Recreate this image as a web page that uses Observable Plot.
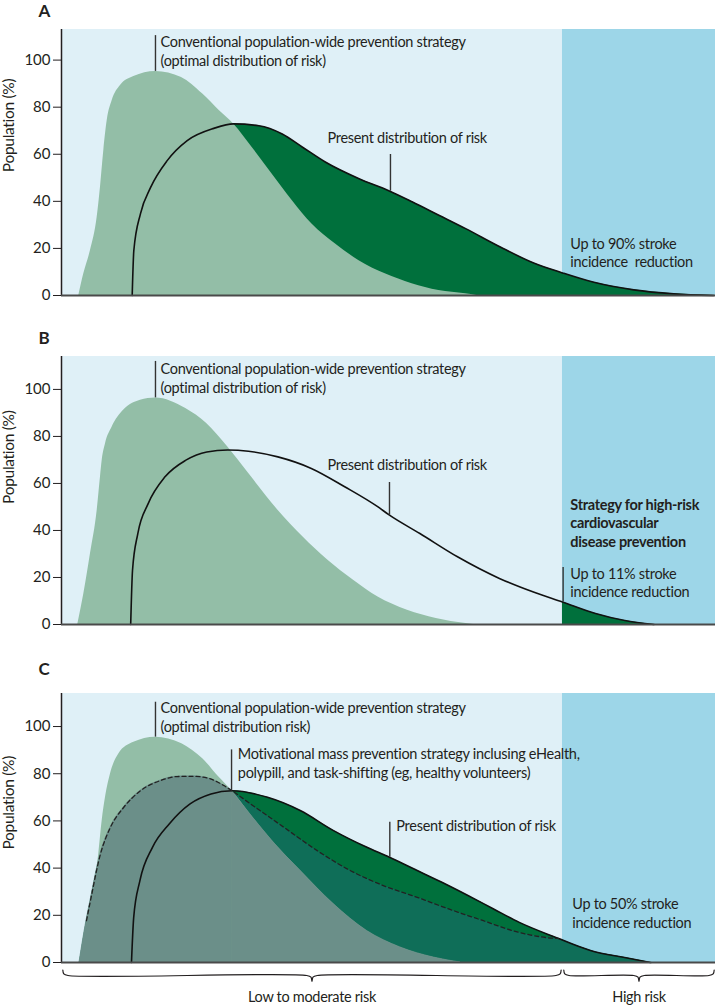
<!DOCTYPE html>
<html><head><meta charset="utf-8">
<script src="https://cdn.jsdelivr.net/npm/d3@7"></script>
<script src="https://cdn.jsdelivr.net/npm/@observablehq/plot@0.6"></script>
<style>
body{margin:0;background:#fff;}
#chart{width:715px;}
#chart svg{display:block;}
#chart g[aria-label="text"] text{letter-spacing:-0.3px;}
</style></head><body><div id="chart"></div>
<script>
// ---------- data (x = risk scale 0–100, y = population %) ----------
const yTicks = [0, 20, 40, 60, 80, 100];
const riskBands = [
  {label: "Low to moderate risk", x1: 0, x2: 76.6},
  {label: "High risk", x1: 76.6, x2: 100}
];
const optimalA = [[2.65,0],[3.41,9.2],[4.43,19.1],[5.46,33.3],[5.96,46.0],[6.47,61.6],[6.99,74.3],[7.75,82.8],[9.02,89.2],[11.06,93.0],[14.4,95.2],[18.35,92.6],[21.56,85.7],[24.16,78.5],[26.35,72.8],[29.16,62.9],[32.2,51.6],[35.3,40.3],[38.3,30.4],[41.9,21.9],[45.5,14.8],[49.5,9.2],[53.6,5.0],[57.7,2.1],[61.8,0.7],[63.5,0]];
const presentA = [[10.81,0],[11.06,19.1],[12.08,34.8],[13.61,45.8],[16.16,57.3],[19.22,65.8],[23.29,71.0],[26.3,72.9],[30.17,72.1],[33.75,68.6],[36.8,63.1],[40.4,56.6],[45.5,49.6],[50.04,44.5],[53.6,39.8],[57.7,34.1],[61.8,28.4],[67.1,20.6],[72.2,13.8],[76.6,9.6],[81.4,5.6],[87.5,2.4],[93.6,0.7],[99.7,0]];
const optimalB = [[2.49,0],[3.41,13.0],[4.43,30.1],[5.46,48.6],[5.96,62.7],[6.22,69.8],[6.73,76.9],[7.75,84.0],[9.53,91.2],[12.08,95.4],[14.4,96.4],[19.0,91.9],[22.2,85.5],[25.4,75.6],[28.6,64.3],[33.1,48.6],[36.9,37.3],[40.7,27.4],[44.6,18.9],[48.4,11.7],[52.9,6.1],[57.3,2.6],[61.85,0.4],[63.0,0]];
const presentB = [[10.58,0],[10.86,23.1],[11.67,38.7],[13.27,51.5],[15.83,62.8],[19.02,69.9],[22.22,73.4],[25.41,74.2],[28.59,73.7],[33.09,71.3],[38.2,66.4],[43.3,58.6],[48.4,50.0],[50.15,46.5],[54.8,38.7],[60.55,28.8],[66.96,19.6],[72.06,13.9],[76.6,9.6],[81.65,4.7],[86.13,1.7],[90.6,0]];
const optimalC = [[2.75,0],[3.41,9.3],[4.02,19.2],[4.94,31.9],[5.70,46.0],[6.22,60.1],[6.73,70.0],[7.49,79.9],[8.76,88.4],[11.06,93.3],[14.37,95.5],[18.4,92.7],[21.6,86.3],[24.1,78.5],[26.05,72.8],[29.25,61.5],[33.1,48.8],[36.5,39.0],[41.6,24.8],[46.7,13.4],[51.8,6.4],[56.9,2.1],[61.0,0]];
const presentC = [[10.7,0],[11.04,19.1],[11.99,34.7],[13.91,48.8],[16.47,58.7],[19.66,67.2],[22.86,71.4],[26.05,72.8],[31.5,70.0],[36.5,64.4],[41.6,55.9],[46.7,48.8],[50.15,44.6],[54.0,39.5],[58.0,34.2],[62.0,28.6],[66.0,22.8],[70.0,17.0],[74.3,12.0],[76.0,10.2],[76.6,9.5],[81.0,5.0],[86.1,2.1],[90.1,0]];
const motivationalC = [[2.75,0],[3.82,17.7],[4.43,26.2],[5.96,46.0],[7.49,57.3],[9.53,65.8],[12.08,72.8],[15.14,77.1],[17.69,78.8],[20.23,78.9],[22.78,77.8],[24.82,75.0],[26.05,72.8],[28.9,67.2],[34.0,57.3],[39.1,47.4],[44.2,38.9],[49.3,32.5],[54.4,27.6],[59.5,22.4],[64.5,17.7],[69.1,13.4],[72.0,11.5],[74.3,10.5],[76.0,10.2],[76.6,9.5],[81.0,5.0],[86.1,2.1],[90.1,0]];
const crossC = 26.05;             // where the three curves meet in panel C
const dashedRange = [3.82, 76.0]; // visible dashed stretch of the motivational curve

const txtConvAB = "Conventional population-wide prevention strategy\n(optimal distribution of risk)";
const txtConvC = "Conventional population-wide prevention strategy\n(optimal distribution risk)";
const txtPresent = "Present distribution of risk";
const txtMotiv = "Motivational mass prevention strategy inclusing eHealth,\npolypill, and task-shifting (eg, healthy volunteers)";
const txtRedA = "Up to 90% stroke\nincidence  reduction";
const txtRedB = "Up to 11% stroke\nincidence reduction";
const txtStratB = "Strategy for high-risk\ncardiovascular\ndisease prevention";
const txtRedC = "Up to 50% stroke\nincidence reduction";
const yLabel = "Population (%)";

// ---------- styling ----------
const C = {
  bgLow: "#dff0f7", bgHigh: "#9dd6e8", light: "#93bea7", dark: "#00703c",
  teal: "#0f6e58", gray: "#6b8f89", ink: "#231f20"
};
const pts = a => a.map(([x, y]) => ({x, y}));
const T = 14.5;

function note(text, x, y, o = {}) {
  return Plot.text([text], {x, y, text: d => d, textAnchor: "start", lineAnchor: "top", dy: -4,
    fontSize: T, fill: C.ink, lineHeight: o.lh ?? 1.3, fontWeight: o.bold ? "bold" : "normal"});
}
function leader(x, y1, y2) {
  return Plot.ruleX([x], {y1, y2, stroke: "#333", strokeWidth: 1.4});
}

function panel({letter, ymax, height, marginTop, marginBottom, letterDy, labelY, marks}) {
  return Plot.plot({
    width: 715, height, marginLeft: 61, marginRight: 0, marginTop, marginBottom,
    style: {fontFamily: "Lato, 'Open Sans', sans-serif", fontSize: "15px", color: C.ink, background: "none", overflow: "visible"},
    x: {domain: [0, 100], axis: null},
    y: {domain: [0, ymax], ticks: yTicks, tickSize: 8, tickPadding: 3, label: null, tickFormat: d => d},
    marks: [
      Plot.rect([riskBands[0]], {x1: "x1", x2: "x2", y1: 0, y2: ymax, fill: C.bgLow}),
      Plot.rect([riskBands[1]], {x1: "x1", x2: "x2", y1: 0, y2: ymax, fill: C.bgHigh}),
      ...marks,
      Plot.ruleX([0], {stroke: C.ink, strokeWidth: 1.5}),
      Plot.ruleY([0], {stroke: "#4a4a4a", strokeWidth: 2}),
      Plot.text([letter], {frameAnchor: "top-left", dx: -23, dy: letterDy, fontWeight: "bold", fontSize: 17, fill: C.ink}),
      Plot.text([{t: yLabel, y: labelY}], {y: "y", text: "t", frameAnchor: "left", dx: -52, rotate: -90, fontSize: 15.5, fill: C.ink})
    ]
  });
}

const curve = "monotone-x";
const area = (data, fill, extra = {}) => Plot.areaY(data, {x: "x", y: "y", fill, curve, ...extra});
const line = (data, extra = {}) => Plot.line(data, {x: "x", y: "y", stroke: "#111", strokeWidth: 1.6, curve, ...extra});

// Panel A
const pA = panel({
  letter: "A", ymax: 113, height: 320, marginTop: 29, marginBottom: 25, letterDy: -25, labelY: 52.4,
  marks: [
    area(pts(presentA), C.dark),
    area(pts(optimalA), C.light),
    line(pts(presentA)),
    leader(14.37, 110.4, 95.2),
    note(txtConvAB, 15.14, 109.7, {lh: 1.33}),
    leader(50.3, 59.9, 44.3),
    note(txtPresent, 40.67, 68.9),
    note(txtRedA, 77.8, 23.7, {lh: 1.26})
  ]
});

// Panel B
const pB = panel({
  letter: "B", ymax: 114, height: 330, marginTop: 36, marginBottom: 26, letterDy: -25, labelY: 51.3,
  marks: [
    area(pts(presentB).filter(d => d.x >= riskBands[1].x1), C.dark),
    area(pts(optimalB), C.light),
    line(pts(presentB)),
    leader(14.37, 111.9, 96.4),
    note(txtConvAB, 15.14, 110.8, {lh: 1.33}),
    leader(50.15, 60.4, 46.5),
    note(txtPresent, 40.67, 69.7),
    note(txtStratB, 77.8, 52.7, {lh: 1.28, bold: true}),
    leader(76.7, 24.2, 9.6),
    note(txtRedB, 77.8, 22.9, {lh: 1.22})
  ]
});

// braces under panel C, built from the risk bands
const braceData = riskBands.flatMap(b => {
  const a = b.x1 + 0.2, e = b.x2 - 0.2, m = (b.x1 + b.x2) / 2;
  return [[a,-3.2],[a+0.15,-4.8],[a+0.8,-5.5],[m-0.8,-5.5],[m-0.15,-6.2],[m,-8.0],[m+0.15,-6.2],[m+0.8,-5.5],[e-0.8,-5.5],[e-0.15,-4.8],[e,-3.2]]
    .map(([x, y]) => ({x, y, band: b.label}));
});

const grayOpts = {stroke: C.gray, strokeWidth: 0.8};
const pC = panel({
  letter: "C", ymax: 114, height: 356, marginTop: 43, marginBottom: 44, letterDy: -31, labelY: 47.9,
  marks: [
    area(pts(presentC), C.dark),
    area(pts(motivationalC), C.teal),
    area(pts(optimalC), C.light),
    area(pts(motivationalC).filter(d => d.x <= crossC), C.gray, grayOpts),
    area(pts(optimalC).filter(d => d.x >= crossC), C.gray, grayOpts),
    line(pts(presentC)),
    line(pts(motivationalC).filter(d => d.x >= dashedRange[0] && d.x <= dashedRange[1]), {strokeDasharray: "4,3", strokeWidth: 1.3, stroke: "#222"}),
    leader(14.37, 110.3, 95.5),
    note(txtConvC, 15.14, 109.7, {lh: 1.3}),
    leader(26.0, 90.1, 72.8),
    note(txtMotiv, 26.96, 90.5, {lh: 1.33}),
    leader(50.2, 59.4, 44.6),
    note(txtPresent, 51.2, 59.8),
    note(txtRedC, 78.1, 26.5, {lh: 1.28}),
    Plot.line(braceData, {x: "x", y: "y", z: "band", curve: "catmull-rom", stroke: C.ink, strokeWidth: 1.2}),
    Plot.text(riskBands, {x: d => (d.x1 + d.x2) / 2, y: -14.8, text: "label", fontSize: T, fill: C.ink})
  ]
});

document.getElementById("chart").append(pA, pB, pC);
</script>
</body></html>
